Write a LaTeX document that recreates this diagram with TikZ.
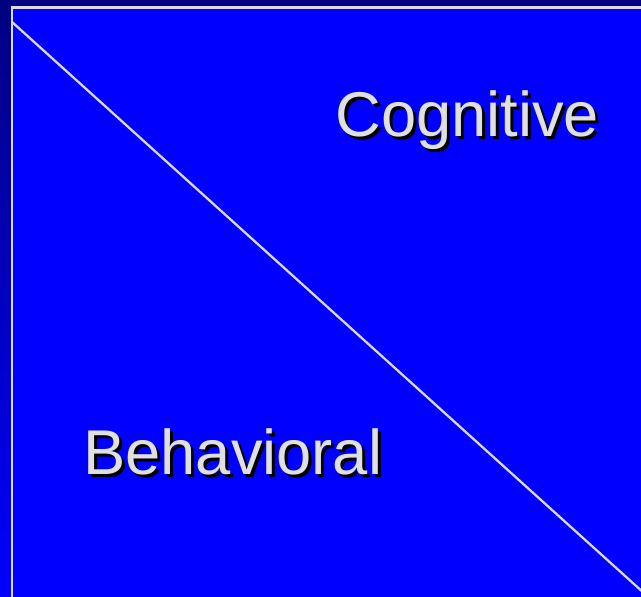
\documentclass[tikz,border=0pt]{standalone}
\usepackage{fontspec}
\setmainfont{Liberation Sans}
\usepackage{tikz}
\usetikzlibrary{positioning}
\definecolor{navybg}{RGB}{0,0,128}
\definecolor{areablue}{RGB}{0,0,255}
\definecolor{framegray}{RGB}{218,218,222}
\definecolor{wordgray}{RGB}{224,224,224}

\begin{document}
\begin{tikzpicture}[x=0.02cm, y=0.02cm,
  area/.style={draw=framegray, line width=1.6pt, fill=areablue},
  divider/.style={draw=framegray, line width=1.3pt},
  word/.style={font=\fontsize{36}{40}\selectfont, text=wordgray, anchor=base west, inner sep=0pt},
  wordshadow/.style={word, text=black},
]
  \useasboundingbox (0,0) rectangle (641,597);
  \clip (0,0) rectangle (641,597);
  \shade[top color=navybg, bottom color=areablue] (0,0) rectangle (641,597);

  \draw[area] (12,589.5) rectangle (660,-20);

  \coordinate (tl) at (12,575);
  \coordinate (br) at (645,3);
  \draw[divider] (tl) -- (br);

  \node[wordshadow] (cognitive shadow) at (338,457) {Cognitive};
  \node[word] (cognitive) at (335,460) {Cognitive};

  \node[wordshadow] (behavioral shadow) at (86,119) {Behavioral};
  \node[word] (behavioral) at (83,122) {Behavioral};
\end{tikzpicture}
\end{document}
